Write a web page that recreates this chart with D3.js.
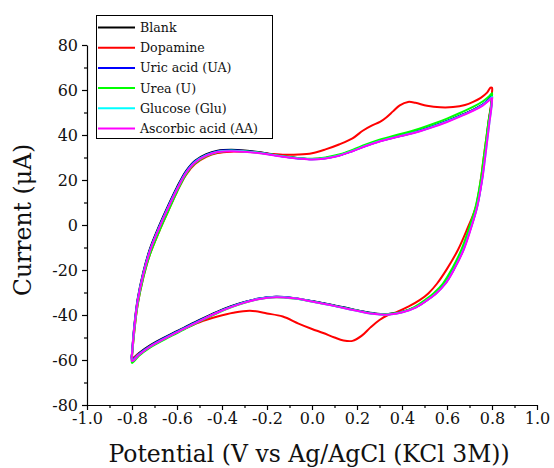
<!DOCTYPE html>
<html><head><meta charset="utf-8">
<script src="https://cdn.jsdelivr.net/npm/d3@7"></script>
<style>body{margin:0;background:#fff} svg{display:block}</style>
</head><body><svg id="c" width="554" height="468"></svg>
<script>
const xTickValues = [-1.0,-0.8,-0.6,-0.4,-0.2,0.0,0.2,0.4,0.6,0.8,1.0];
const xTickLabels = ["-1.0","-0.8","-0.6","-0.4","-0.2","0.0","0.2","0.4","0.6","0.8","1.0"];
const xMinorTicks = [-0.9,-0.7,-0.5,-0.3,-0.1,0.1,0.3,0.5,0.7,0.9];
const yTickValues = [-80,-60,-40,-20,0,20,40,60,80];
const yTickLabels = ["-80","-60","-40","-20","0","20","40","60","80"];
const yMinorTicks = [-70,-50,-30,-10,10,30,50,70];
const seriesNames = ["Blank","Dopamine","Uric acid (UA)","Urea (U)","Glucose (Glu)","Ascorbic acid (AA)"];
const seriesColors = ["#000000","#ff0000","#0000ff","#00ff00","#00ffff","#ff00ff"];

// [potential (V), current (uA)] - one closed CV loop per series
const blank = [[-0.80,-57],[-0.79,-45],[-0.775,-33],[-0.75,-21],[-0.72,-10.5],[-0.68,-0.5],[-0.64,8.5],[-0.60,16.8],[-0.56,24],[-0.52,28.6],[-0.47,31.5],[-0.42,33],[-0.36,33.4],[-0.30,33.1],[-0.24,32.4],[-0.18,31.4],[-0.12,30.4],[-0.06,29.7],[0.00,29.3],[0.06,29.8],[0.12,31],[0.18,33],[0.24,35.3],[0.30,37.3],[0.36,38.9],[0.42,40.3],[0.48,42],[0.54,44],[0.60,46.2],[0.66,48.7],[0.72,51.4],[0.76,53.6],[0.785,55.6],[0.80,57],
  [0.80,56],[0.795,52],[0.787,47],[0.776,38],[0.765,29],[0.754,20],[0.732,8],[0.702,-2],[0.671,-11],[0.63,-19.5],[0.591,-26],[0.55,-30.3],[0.511,-33.3],[0.46,-36.5],[0.40,-38.6],[0.34,-39.5],[0.28,-39.3],[0.22,-38.3],[0.16,-37],[0.08,-35.3],[0.00,-33.8],[-0.08,-32.5],[-0.16,-31.9],[-0.24,-32.8],[-0.30,-34.2],[-0.36,-36.1],[-0.42,-38.5],[-0.50,-42.2],[-0.57,-45.7],[-0.64,-49.2],[-0.72,-53.5],[-0.77,-57],[-0.80,-59.5]];
const dopamine = [[-0.80,-58.3],[-0.79,-47.5],[-0.775,-35.5],[-0.75,-23.5],[-0.72,-13],[-0.68,-3],[-0.64,6],[-0.60,14.8],[-0.56,22.3],[-0.52,27.1],[-0.47,30.3],[-0.42,32],[-0.36,32.6],[-0.30,32.5],[-0.24,32.2],[-0.18,31.6],[-0.12,31.2],[-0.06,31.3],[0.00,31.9],[0.06,33.6],[0.12,35.8],[0.18,38.5],[0.227,42],[0.265,44.2],[0.302,45.8],[0.33,47.8],[0.36,50.5],[0.39,53.2],[0.427,54.7],[0.46,54.3],[0.511,53],[0.57,52.3],[0.627,52.4],[0.68,53.3],[0.716,54.7],[0.75,56.5],[0.778,58.8],[0.793,61],[0.80,61],
  [0.80,59],[0.795,53],[0.786,47],[0.774,38],[0.762,29],[0.75,20],[0.728,8],[0.689,-2],[0.649,-11],[0.60,-19.5],[0.556,-26],[0.518,-30.3],[0.48,-33.3],[0.43,-36.2],[0.378,-38.6],[0.338,-40],[0.30,-42.2],[0.26,-45.5],[0.22,-49.3],[0.18,-51.5],[0.14,-51.3],[0.10,-50],[0.05,-48],[0.00,-46.2],[-0.06,-43.8],[-0.13,-40.7],[-0.20,-39.3],[-0.276,-38.1],[-0.35,-39],[-0.42,-40.7],[-0.50,-43.2],[-0.57,-46.2],[-0.64,-49.6],[-0.72,-53.8],[-0.77,-57.2],[-0.80,-59.2]];
const uricAcid = [[-0.80,-57.3],[-0.79,-45.5],[-0.775,-33.5],[-0.75,-21.5],[-0.72,-11],[-0.68,-1],[-0.64,8],[-0.60,16.3],[-0.56,23.6],[-0.52,28.3],[-0.47,31.2],[-0.42,32.8],[-0.36,33.2],[-0.30,32.9],[-0.24,32.2],[-0.18,31.3],[-0.12,30.3],[-0.06,29.6],[0.00,29.2],[0.06,29.7],[0.12,30.9],[0.18,32.9],[0.24,35.2],[0.30,37.2],[0.36,38.8],[0.42,40.2],[0.48,41.9],[0.54,43.9],[0.60,46.1],[0.66,48.6],[0.72,51.3],[0.76,53.6],[0.785,55.9],[0.80,57.4],
  [0.80,56.5],[0.796,52],[0.788,47],[0.777,38],[0.766,29],[0.755,20],[0.733,8],[0.703,-2],[0.672,-11],[0.631,-19.5],[0.592,-26],[0.551,-30.3],[0.512,-33.3],[0.461,-36.5],[0.401,-38.7],[0.341,-39.6],[0.28,-39.4],[0.22,-38.4],[0.16,-37.1],[0.08,-35.4],[0.00,-33.9],[-0.08,-32.5],[-0.16,-31.9],[-0.24,-32.8],[-0.30,-34.3],[-0.36,-36.3],[-0.42,-38.7],[-0.50,-42.4],[-0.57,-45.9],[-0.64,-49.4],[-0.72,-53.8],[-0.77,-57.3],[-0.80,-60]];
const urea = [[-0.80,-58.5],[-0.79,-47.5],[-0.775,-35.5],[-0.75,-23.5],[-0.72,-13],[-0.68,-3],[-0.64,6],[-0.60,14.8],[-0.56,22.5],[-0.52,27.4],[-0.47,30.6],[-0.42,32.3],[-0.36,33],[-0.30,32.8],[-0.24,32.2],[-0.18,31.3],[-0.12,30.4],[-0.06,29.7],[0.00,29.4],[0.06,30],[0.12,31.3],[0.18,33.4],[0.24,35.8],[0.30,37.9],[0.36,39.6],[0.42,41.1],[0.48,42.9],[0.54,45],[0.60,47.3],[0.66,49.9],[0.72,52.7],[0.76,55],[0.785,57],[0.80,58.6],
  [0.80,57.5],[0.795,52],[0.786,47],[0.774,38],[0.762,29],[0.75,20],[0.727,8],[0.696,-2],[0.664,-11],[0.622,-19.5],[0.582,-26],[0.541,-30.3],[0.503,-33.3],[0.455,-36.5],[0.397,-38.8],[0.338,-39.6],[0.28,-39.5],[0.22,-38.5],[0.16,-37.2],[0.08,-35.5],[0.00,-34],[-0.08,-32.7],[-0.16,-32.1],[-0.24,-33],[-0.30,-34.6],[-0.36,-36.6],[-0.42,-39.1],[-0.50,-42.9],[-0.57,-46.5],[-0.64,-50.1],[-0.72,-54.5],[-0.77,-58.2],[-0.80,-61.3]];
const glucose = [[-0.80,-57.6],[-0.79,-45.8],[-0.775,-33.8],[-0.75,-21.8],[-0.72,-11.3],[-0.68,-1.3],[-0.64,7.7],[-0.60,16],[-0.56,23.3],[-0.52,28],[-0.47,31],[-0.42,32.6],[-0.36,33],[-0.30,32.7],[-0.24,32.1],[-0.18,31.2],[-0.12,30.3],[-0.06,29.6],[0.00,29.2],[0.06,29.7],[0.12,30.9],[0.18,32.9],[0.24,35.2],[0.30,37.2],[0.36,38.8],[0.42,40.2],[0.48,41.8],[0.54,43.8],[0.60,46],[0.66,48.5],[0.72,51.2],[0.76,53.4],[0.785,55.4],[0.80,56.9],
  [0.80,56],[0.796,51],[0.789,46],[0.778,37],[0.767,28],[0.756,20],[0.734,8],[0.704,-2],[0.673,-11],[0.632,-19.5],[0.593,-26],[0.552,-30.3],[0.513,-33.3],[0.462,-36.6],[0.402,-38.8],[0.342,-39.8],[0.28,-39.6],[0.22,-38.6],[0.16,-37.3],[0.08,-35.6],[0.00,-34],[-0.08,-32.6],[-0.16,-32],[-0.24,-32.9],[-0.30,-34.4],[-0.36,-36.4],[-0.42,-38.8],[-0.50,-42.6],[-0.57,-46.1],[-0.64,-49.6],[-0.72,-54],[-0.77,-57.6],[-0.80,-60.4]];
const ascorbicAcid = [[-0.80,-57.8],[-0.79,-46],[-0.775,-34],[-0.75,-22],[-0.72,-11.5],[-0.68,-1.5],[-0.64,7.5],[-0.60,15.8],[-0.56,23.1],[-0.52,27.8],[-0.47,30.8],[-0.42,32.4],[-0.36,32.8],[-0.30,32.6],[-0.24,32],[-0.18,31.1],[-0.12,30.2],[-0.06,29.5],[0.00,29.1],[0.06,29.6],[0.12,30.8],[0.18,32.8],[0.24,35.1],[0.30,37.1],[0.36,38.7],[0.42,40.1],[0.48,41.7],[0.54,43.6],[0.60,45.8],[0.66,48.3],[0.72,51],[0.76,53.2],[0.785,55.2],[0.80,56.5],
  [0.80,55.5],[0.796,51],[0.789,46],[0.778,37],[0.767,28],[0.756,20],[0.734,8],[0.705,-2],[0.674,-11],[0.633,-19.5],[0.594,-26],[0.553,-30.3],[0.514,-33.3],[0.463,-36.6],[0.403,-38.8],[0.343,-39.8],[0.28,-39.6],[0.22,-38.6],[0.16,-37.3],[0.08,-35.6],[0.00,-34],[-0.08,-32.6],[-0.16,-32.1],[-0.24,-33],[-0.30,-34.5],[-0.36,-36.5],[-0.42,-38.9],[-0.50,-42.7],[-0.57,-46.2],[-0.64,-49.7],[-0.72,-54.1],[-0.77,-57.8],[-0.80,-60.5]];
const seriesData = [blank, dopamine, uricAcid, urea, glucose, ascorbicAcid];

const svg = d3.select("#c");
const FONT = "'DejaVu Serif', serif";
const x = d3.scaleLinear().domain([-1,1]).range([87,537]);
const y = d3.scaleLinear().domain([-80,80]).range([405,45]);

// axes
svg.append("g").attr("transform","translate(0,405)")
  .call(d3.axisBottom(x).tickValues(xTickValues).tickFormat((d,i)=>xTickLabels[i]).tickSize(5).tickSizeOuter(0).tickPadding(3));
svg.append("g").attr("transform","translate(0,405)")
  .call(d3.axisBottom(x).tickValues(xMinorTicks).tickFormat("").tickSize(3).tickSizeOuter(0))
  .select(".domain").remove();
svg.append("g").attr("transform","translate(87,0)")
  .call(d3.axisLeft(y).tickValues(yTickValues).tickFormat((d,i)=>yTickLabels[i]).tickSize(5).tickSizeOuter(0).tickPadding(4));
svg.append("g").attr("transform","translate(87,0)")
  .call(d3.axisLeft(y).tickValues(yMinorTicks).tickFormat("").tickSize(3).tickSizeOuter(0))
  .select(".domain").remove();
svg.selectAll(".tick text").attr("font-family",FONT).attr("font-size",16).attr("fill","#111");
svg.selectAll(".domain, .tick line").attr("stroke","#000").attr("stroke-width",1.2);

// curves
const line = d3.line().x(d=>x(d[0])).y(d=>y(d[1])).curve(d3.curveCatmullRom.alpha(0.5));
seriesData.forEach((s,i)=>{
  svg.append("path").datum(s.concat([s[0]])).attr("d",line)
    .attr("fill","none").attr("stroke",seriesColors[i]).attr("stroke-width",2).attr("stroke-linejoin","round");
});

// titles
svg.append("text").attr("x",309).attr("y",462).attr("text-anchor","middle")
  .attr("font-family",FONT).attr("font-size",23.5).attr("fill","#111").text("Potential (V vs Ag/AgCl (KCl 3M))");
svg.append("text").attr("transform","translate(31,220) rotate(-90)").attr("text-anchor","middle")
  .attr("font-family",FONT).attr("font-size",23.5).attr("fill","#111").text("Current (μA)");

// legend
const lg = svg.append("g");
lg.append("rect").attr("x",96.5).attr("y",15.5).attr("width",176).attr("height",123)
  .attr("fill","#fff").attr("stroke","#000").attr("stroke-width",1);
seriesNames.forEach((n,i)=>{
  const yy = 27.5 + i*20.2;
  lg.append("line").attr("x1",98).attr("x2",135).attr("y1",yy).attr("y2",yy)
    .attr("stroke",seriesColors[i]).attr("stroke-width",2);
  lg.append("text").attr("x",140).attr("y",yy).attr("dy","0.35em")
    .attr("font-family",FONT).attr("font-size",12.6).attr("fill","#111").text(n);
});
</script></body></html>
